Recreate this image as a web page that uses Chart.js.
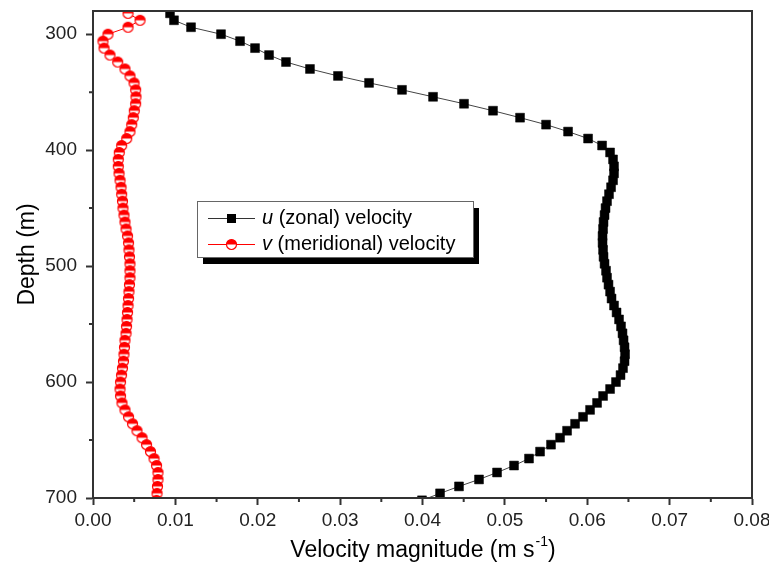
<!DOCTYPE html>
<html>
<head>
<meta charset="utf-8">
<script src="https://cdn.jsdelivr.net/npm/chart.js@4"></script>
<style>
  html, body { margin: 0; padding: 0; background: #fff; }
  canvas { display: block; }
</style>
</head>
<body>
<canvas id="chart" width="769" height="573"></canvas>
<script>
// depth bins (m)
const depths = [282,288,294,300,306,312,318,324,330,336,342,348,354,360,366,372,378,384,390,396,
  402,408,414,420,426,432,438,444,450,456,462,468,474,480,486,492,498,504,510,516,
  522,528,534,540,546,552,558,564,570,576,582,588,594,600,606,612,618,624,630,636,
  642,648,654,660,666,672,678,684,690,696,702];

// u (zonal) velocity, m/s
const uVel = [0.00935,0.00983,0.0119,0.01554,0.01785,0.01967,0.02137,0.02343,0.02634,0.02974,
  0.03351,0.03751,0.04128,0.04504,0.04856,0.05184,0.055,0.05767,0.0601,0.0618,
  0.06277,0.06313,0.06325,0.06325,0.06313,0.06289,0.06264,0.0624,0.06222,0.0621,
  0.06198,0.06192,0.06186,0.06186,0.06192,0.06198,0.0621,0.06228,0.0624,0.06258,
  0.06277,0.06295,0.06325,0.06356,0.06386,0.0641,0.06428,0.06441,0.06453,0.06459,
  0.06453,0.06434,0.06404,0.06349,0.06277,0.06192,0.06119,0.06034,0.05949,0.05852,
  0.05755,0.0567,0.0556,0.05427,0.05293,0.05111,0.04905,0.04686,0.04443,0.04213,
  0.03994];

// v (meridional) velocity, m/s
const vVel = [0.00425,0.00571,0.00425,0.00182,0.00121,0.00134,0.00206,0.003,0.00388,0.00449,
  0.00498,0.00518,0.00522,0.00518,0.00501,0.00489,0.0047,0.00449,0.00409,0.00348,
  0.00319,0.00307,0.00307,0.00316,0.00328,0.0034,0.00348,0.00358,0.00364,0.00376,
  0.00388,0.00401,0.00419,0.00431,0.00437,0.00443,0.00449,0.00449,0.00449,0.00443,
  0.00437,0.00431,0.00425,0.00419,0.00413,0.00407,0.00401,0.00388,0.00382,0.00376,
  0.0037,0.00358,0.00346,0.00334,0.00328,0.00334,0.00352,0.00388,0.00431,0.0048,
  0.00534,0.00595,0.0065,0.00698,0.00741,0.00771,0.00789,0.00789,0.00783,0.00777,
  0.00771];

const xTicks = [0,0.01,0.02,0.03,0.04,0.05,0.06,0.07,0.08];
const xMinor = [0.005,0.015,0.025,0.035,0.045,0.055,0.065,0.075];
const yTicks = [300,400,500,600,700];
const yMinor = [350,450,550,650];

const uLabel = ["u", " (zonal) velocity"];
const vLabel = ["v", " (meridional) velocity"];
const xTitle = ["Velocity magnitude (m s", "-1", ")"];
const yTitle = "Depth (m)";

const FONT = "'Liberation Sans', Arial, sans-serif";
const AXIS = "#333";

function halfCircle(r){
  const c = document.createElement("canvas");
  const s = Math.ceil(r * 2 + 3);
  c.width = c.height = s;
  const g = c.getContext("2d"), m = s / 2;
  g.fillStyle = "#fff";
  g.beginPath(); g.arc(m, m, r, 0, 2 * Math.PI); g.fill();
  g.fillStyle = "#f00";
  g.beginPath(); g.arc(m, m, r, Math.PI, 2 * Math.PI); g.fill();
  g.strokeStyle = "#f00"; g.lineWidth = 1.2;
  g.beginPath(); g.arc(m, m, r, 0, 2 * Math.PI); g.stroke();
  return c;
}
const vMarker = halfCircle(5);

const pts = (xs) => xs.map((v, i) => ({ x: v, y: depths[i] }));

// frame, minor ticks, legend box and x title
const extras = {
  id: "extras",
  afterDraw(chart){
    const { ctx, chartArea: a, scales: { x, y } } = chart;
    ctx.save();
    ctx.strokeStyle = AXIS; ctx.lineWidth = 2;
    ctx.beginPath();
    xMinor.forEach(v => { const p = x.getPixelForValue(v); ctx.moveTo(p, a.bottom); ctx.lineTo(p, a.bottom + 4); });
    yMinor.forEach(v => { const p = y.getPixelForValue(v); ctx.moveTo(a.left, p); ctx.lineTo(a.left - 4, p); });
    ctx.stroke();
    ctx.strokeRect(a.left, a.top, a.right - a.left, a.bottom - a.top);

    // legend
    const bx = 197, by = 201, bw = 276, bh = 56;
    ctx.fillStyle = "#000";
    ctx.fillRect(bx + 6, by + 7, bw, bh);
    ctx.fillStyle = "#fff";
    ctx.fillRect(bx, by, bw, bh);
    ctx.strokeStyle = "#666"; ctx.lineWidth = 1;
    ctx.strokeRect(bx + 0.5, by + 0.5, bw, bh);

    const rows = [
      { y: 218, label: uLabel, color: "#333", marker: "rect" },
      { y: 244, label: vLabel, color: "#f00", marker: "half" }
    ];
    rows.forEach(r => {
      ctx.strokeStyle = r.color; ctx.lineWidth = 1;
      ctx.beginPath(); ctx.moveTo(208, r.y + 0.5); ctx.lineTo(255, r.y + 0.5); ctx.stroke();
      if (r.marker === "rect") {
        ctx.fillStyle = "#000"; ctx.fillRect(227, r.y - 4, 9, 9);
      } else {
        ctx.drawImage(vMarker, 231.5 - vMarker.width / 2, r.y + 0.5 - vMarker.height / 2);
      }
      ctx.fillStyle = "#000"; ctx.textBaseline = "middle"; ctx.textAlign = "left";
      ctx.font = "italic 20px " + FONT;
      ctx.fillText(r.label[0], 262, r.y);
      const w = ctx.measureText(r.label[0]).width;
      ctx.font = "20px " + FONT;
      ctx.fillText(r.label[1], 262 + w, r.y);
    });

    // x axis title with superscript
    const cx = (a.left + a.right) / 2, ty = 551;
    ctx.font = "23px " + FONT;
    const w1 = ctx.measureText(xTitle[0]).width, w3 = ctx.measureText(xTitle[2]).width;
    ctx.font = "14px " + FONT;
    const w2 = ctx.measureText(xTitle[1]).width;
    let sx = cx - (w1 + w2 + w3) / 2;
    ctx.fillStyle = "#000"; ctx.textBaseline = "middle"; ctx.textAlign = "left";
    ctx.font = "23px " + FONT; ctx.fillText(xTitle[0], sx, ty);
    ctx.font = "14px " + FONT; ctx.fillText(xTitle[1], sx + w1 + 1, ty - 9);
    ctx.font = "23px " + FONT; ctx.fillText(xTitle[2], sx + w1 + w2 + 1, ty);
    ctx.restore();
  }
};

new Chart(document.getElementById("chart"), {
  type: "scatter",
  data: {
    datasets: [
      {
        label: uLabel.join(""),
        data: pts(uVel),
        showLine: true,
        borderColor: "#444",
        borderWidth: 1,
        pointStyle: "rect",
        pointRadius: 6.3,
        pointBackgroundColor: "#000",
        pointBorderColor: "#000",
        pointBorderWidth: 0.5
      },
      {
        label: vLabel.join(""),
        data: pts(vVel),
        showLine: true,
        borderColor: "#f00",
        borderWidth: 1,
        pointStyle: vMarker,
        pointRadius: 5
      }
    ]
  },
  plugins: [extras],
  options: {
    responsive: false,
    animation: false,
    layout: { padding: { top: 11, right: 17, left: 0, bottom: 0 } },
    plugins: { legend: { display: false }, tooltip: { enabled: false } },
    scales: {
      x: {
        type: "linear", min: 0, max: 0.08,
        afterBuildTicks: s => { s.ticks = xTicks.map(v => ({ value: v })); },
        afterFit: s => { s.height = 75; s.paddingLeft = 0; s.paddingRight = 0; },
        ticks: { callback: v => v.toFixed(2), font: { size: 19, family: FONT }, color: "#222", padding: 4, maxRotation: 0 },
        grid: { drawOnChartArea: false, drawTicks: true, tickLength: 7, tickWidth: 2, tickColor: AXIS },
        border: { display: true, color: AXIS, width: 2 },
        title: { display: false }
      },
      y: {
        type: "linear", min: 280, max: 700, reverse: true,
        afterBuildTicks: s => { s.ticks = yTicks.map(v => ({ value: v })); },
        afterFit: s => { s.width = 93; s.paddingTop = 0; s.paddingBottom = 0; },
        ticks: { font: { size: 19, family: FONT }, color: "#222", padding: 9 },
        grid: { drawOnChartArea: false, drawTicks: true, tickLength: 7, tickWidth: 2, tickColor: AXIS },
        border: { display: true, color: AXIS, width: 2 },
        title: { display: true, text: yTitle, font: { size: 23, family: FONT }, color: "#000", padding: { top: 14 } }
      }
    }
  }
});
</script>
</body>
</html>
